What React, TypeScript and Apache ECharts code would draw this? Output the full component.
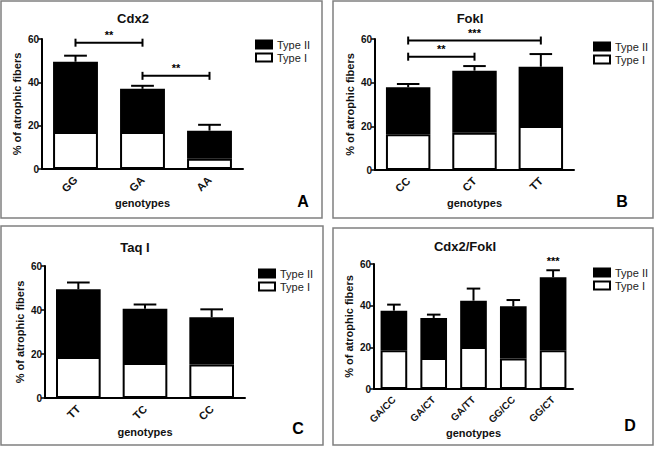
import React, { useEffect, useRef } from "react";
import * as echarts from "echarts";

// ---- Data ----
const catsA = ["GG", "GA", "AA"];
const typeIA = [17.1, 17.1, 4.7];
const typeIIA = [32.4, 19.9, 13.0];
const semA = [2.8, 1.4, 2.7];

const catsB = ["CC", "CT", "TT"];
const typeIB = [16.4, 17.1, 20.2];
const typeIIB = [21.5, 28.4, 27.1];
const semB = [1.5, 2.1, 5.8];

const catsC = ["TT", "TC", "CC"];
const typeIC = [18.6, 15.9, 15.2];
const typeIIC = [30.8, 24.7, 21.5];
const semC = [3.1, 1.9, 3.6];

const catsD = ["GA/CC", "GA/CT", "GA/TT", "GG/CC", "GG/CT"];
const typeID = [18.6, 14.9, 20.2, 14.6, 18.6];
const typeIID = [19.0, 19.2, 22.2, 25.1, 35.0];
const semD = [2.9, 1.6, 5.8, 3.0, 3.4];

// significance brackets: [fromIndex, toIndex, yValue]
const bracketsA = [[0, 1, 58.3], [1, 2, 43.0]];
const bracketLabelsA = ["**", "**"];
const bracketsB = [[0, 1, 51.9], [0, 2, 59.3]];
const bracketLabelsB = ["**", "***"];
const starsD = [[4, 61.5]];
const starLabelsD = ["***"];

const yTicks = [0, 20, 40, 60];
const titles = ["Cdx2", "FokI", "Taq I", "Cdx2/FokI"];
const letters = ["A", "B", "C", "D"];

const FONT = "'Liberation Sans', Arial, sans-serif";

export default function App() {
  const ref = useRef<HTMLDivElement>(null);

  useEffect(() => {
    if (!ref.current) return;
    const chart = echarts.init(ref.current, undefined, { renderer: "svg" });

    const panels = [
      { cats: catsA, t1: typeIA, t2: typeIIA, sem: semA, grid: { left: 42, top: 39, width: 201, height: 130 }, nameGapX: 27, fs: 11 },
      { cats: catsB, t1: typeIB, t2: typeIIB, sem: semB, grid: { left: 375, top: 39, width: 199, height: 131 }, nameGapX: 27, fs: 11 },
      { cats: catsC, t1: typeIC, t2: typeIIC, sem: semC, grid: { left: 45, top: 266, width: 200, height: 132 }, nameGapX: 28, fs: 11 },
      { cats: catsD, t1: typeID, t2: typeIID, sem: semD, grid: { left: 374, top: 264, width: 199, height: 125 }, nameGapX: 36, fs: 10 },
    ];

    const grids: any[] = [];
    const xAxes: any[] = [];
    const yAxes: any[] = [];
    const series: any[] = [];

    panels.forEach((p, i) => {
      grids.push({ ...p.grid, containLabel: false });
      xAxes.push({
        type: "category",
        gridIndex: i,
        data: p.cats,
        name: "genotypes",
        nameLocation: "middle",
        nameGap: p.nameGapX,
        nameTextStyle: { fontFamily: FONT, fontWeight: "bold", fontSize: 11, color: "#111" },
        axisLine: { lineStyle: { color: "#000", width: 2 } },
        axisTick: { alignWithLabel: true, length: 4, lineStyle: { color: "#000", width: 1.5 } },
        axisLabel: { rotate: 45, interval: 0, fontFamily: FONT, fontWeight: "bold", fontSize: p.fs, color: "#111", margin: 9 },
      });
      yAxes.push({
        type: "value",
        gridIndex: i,
        min: yTicks[0],
        max: yTicks[yTicks.length - 1],
        interval: yTicks[1] - yTicks[0],
        name: "% of atrophic fibers",
        nameLocation: "middle",
        nameGap: 20,
        nameTextStyle: { fontFamily: FONT, fontWeight: "bold", fontSize: 11, color: "#111" },
        axisLine: { show: true, lineStyle: { color: "#000", width: 2 } },
        axisTick: { show: true, length: 4, lineStyle: { color: "#000", width: 1.5 } },
        axisLabel: { fontFamily: FONT, fontWeight: "bold", fontSize: 10, color: "#111", margin: 3 },
        splitLine: { show: false },
      });
      series.push({
        name: "Type I",
        type: "bar",
        xAxisIndex: i,
        yAxisIndex: i,
        stack: "s" + i,
        barWidth: "67%",
        data: p.t1,
        itemStyle: { color: "#fff", borderColor: "#000", borderWidth: 2 },
      });
      series.push({
        name: "Type II",
        type: "bar",
        xAxisIndex: i,
        yAxisIndex: i,
        stack: "s" + i,
        barWidth: "67%",
        data: p.t2,
        itemStyle: { color: "#000", borderColor: "#000", borderWidth: 2 },
      });
      // error bars (upper only)
      series.push({
        type: "custom",
        xAxisIndex: i,
        yAxisIndex: i,
        silent: true,
        z: 1,
        data: p.cats.map((_, k) => [k, p.t1[k] + p.t2[k], p.sem[k]]),
        renderItem: (params: any, api: any) => {
          const x = api.value(0);
          const top = api.value(1);
          const e = api.value(2);
          const p0 = api.coord([x, top]);
          const p1 = api.coord([x, top + e]);
          const half = api.size([1, 0])[0] * 0.17;
          return {
            type: "group",
            children: [
              { type: "line", shape: { x1: p0[0], y1: p0[1], x2: p1[0], y2: p1[1] }, style: { stroke: "#000", lineWidth: 2 } },
              { type: "line", shape: { x1: p1[0] - half, y1: p1[1], x2: p1[0] + half, y2: p1[1] }, style: { stroke: "#000", lineWidth: 2 } },
            ],
          };
        },
      });
    });

    const makeBrackets = (gi: number, data: number[][], labels: string[]) => ({
      type: "custom",
      xAxisIndex: gi,
      yAxisIndex: gi,
      silent: true,
      data: data,
      renderItem: (params: any, api: any) => {
        const a = api.coord([api.value(0), api.value(2)]);
        const b = api.coord([api.value(1), api.value(2)]);
        const st = { stroke: "#000", lineWidth: 2 };
        return {
          type: "group",
          children: [
            { type: "line", shape: { x1: a[0], y1: a[1], x2: b[0], y2: b[1] }, style: st },
            { type: "line", shape: { x1: a[0], y1: a[1] - 4, x2: a[0], y2: a[1] + 4 }, style: st },
            { type: "line", shape: { x1: b[0], y1: b[1] - 4, x2: b[0], y2: b[1] + 4 }, style: st },
            {
              type: "text",
              x: (a[0] + b[0]) / 2,
              y: a[1] - 2,
              style: { text: labels[params.dataIndex], fontFamily: FONT, fontWeight: "bold", fontSize: 11, fill: "#000", align: "center", verticalAlign: "bottom" },
            },
          ],
        };
      },
    });

    series.push(makeBrackets(0, bracketsA, bracketLabelsA));
    series.push(makeBrackets(1, bracketsB, bracketLabelsB));
    series.push({
      type: "custom",
      xAxisIndex: 3,
      yAxisIndex: 3,
      silent: true,
      data: starsD,
      renderItem: (params: any, api: any) => {
        const a = api.coord([api.value(0), api.value(1)]);
        return {
          type: "text",
          x: a[0],
          y: a[1],
          style: { text: starLabelsD[params.dataIndex], fontFamily: FONT, fontWeight: "bold", fontSize: 11, fill: "#000", align: "center", verticalAlign: "middle" },
        };
      },
    });

    const legendPos = [
      { left: 255, top: 39 },
      { left: 593, top: 41 },
      { left: 258, top: 268 },
      { left: 593, top: 267 },
    ];
    const legends = legendPos.map((lp) => ({
      ...lp,
      orient: "vertical",
      itemWidth: 16,
      itemHeight: 8,
      itemGap: 2,
      icon: "rect",
      data: ["Type II", "Type I"],
      selectedMode: false,
      textStyle: { fontFamily: FONT, fontSize: 11, color: "#222", padding: [0, 0, 0, 0] },
      padding: 0,
    }));

    const borders = [
      { x: 1, y: 1, width: 321, height: 217 },
      { x: 333, y: 1, width: 320, height: 217 },
      { x: 1, y: 226, width: 322, height: 219 },
      { x: 333, y: 228, width: 320, height: 217 },
    ];
    const titlePos = [
      [133, 18],
      [470, 18],
      [135, 247],
      [465, 246],
    ];
    const letterPos = [
      [303, 201],
      [622, 201],
      [298, 428],
      [630, 425],
    ];

    const graphic: any[] = [];
    borders.forEach((b) => {
      graphic.push({ type: "rect", shape: b, style: { fill: "none", stroke: "#808080", lineWidth: 1.5 }, silent: true, z: 0 });
    });
    titles.forEach((t, i) => {
      graphic.push({
        type: "text",
        x: titlePos[i][0],
        y: titlePos[i][1],
        style: { text: t, fontFamily: FONT, fontWeight: "bold", fontSize: 13, fill: "#111", align: "center", verticalAlign: "middle" },
      });
    });
    letters.forEach((t, i) => {
      graphic.push({
        type: "text",
        x: letterPos[i][0],
        y: letterPos[i][1],
        style: { text: t, fontFamily: FONT, fontWeight: "bold", fontSize: 16, fill: "#000", align: "center", verticalAlign: "middle" },
      });
    });

    chart.setOption({
      animation: false,
      backgroundColor: "#fff",
      grid: grids,
      xAxis: xAxes,
      yAxis: yAxes,
      legend: legends,
      series,
      graphic,
    });

    return () => chart.dispose();
  }, []);

  return <div ref={ref} style={{ position: "fixed", left: 0, top: 0, width: 656, height: 449 }} />;
}
